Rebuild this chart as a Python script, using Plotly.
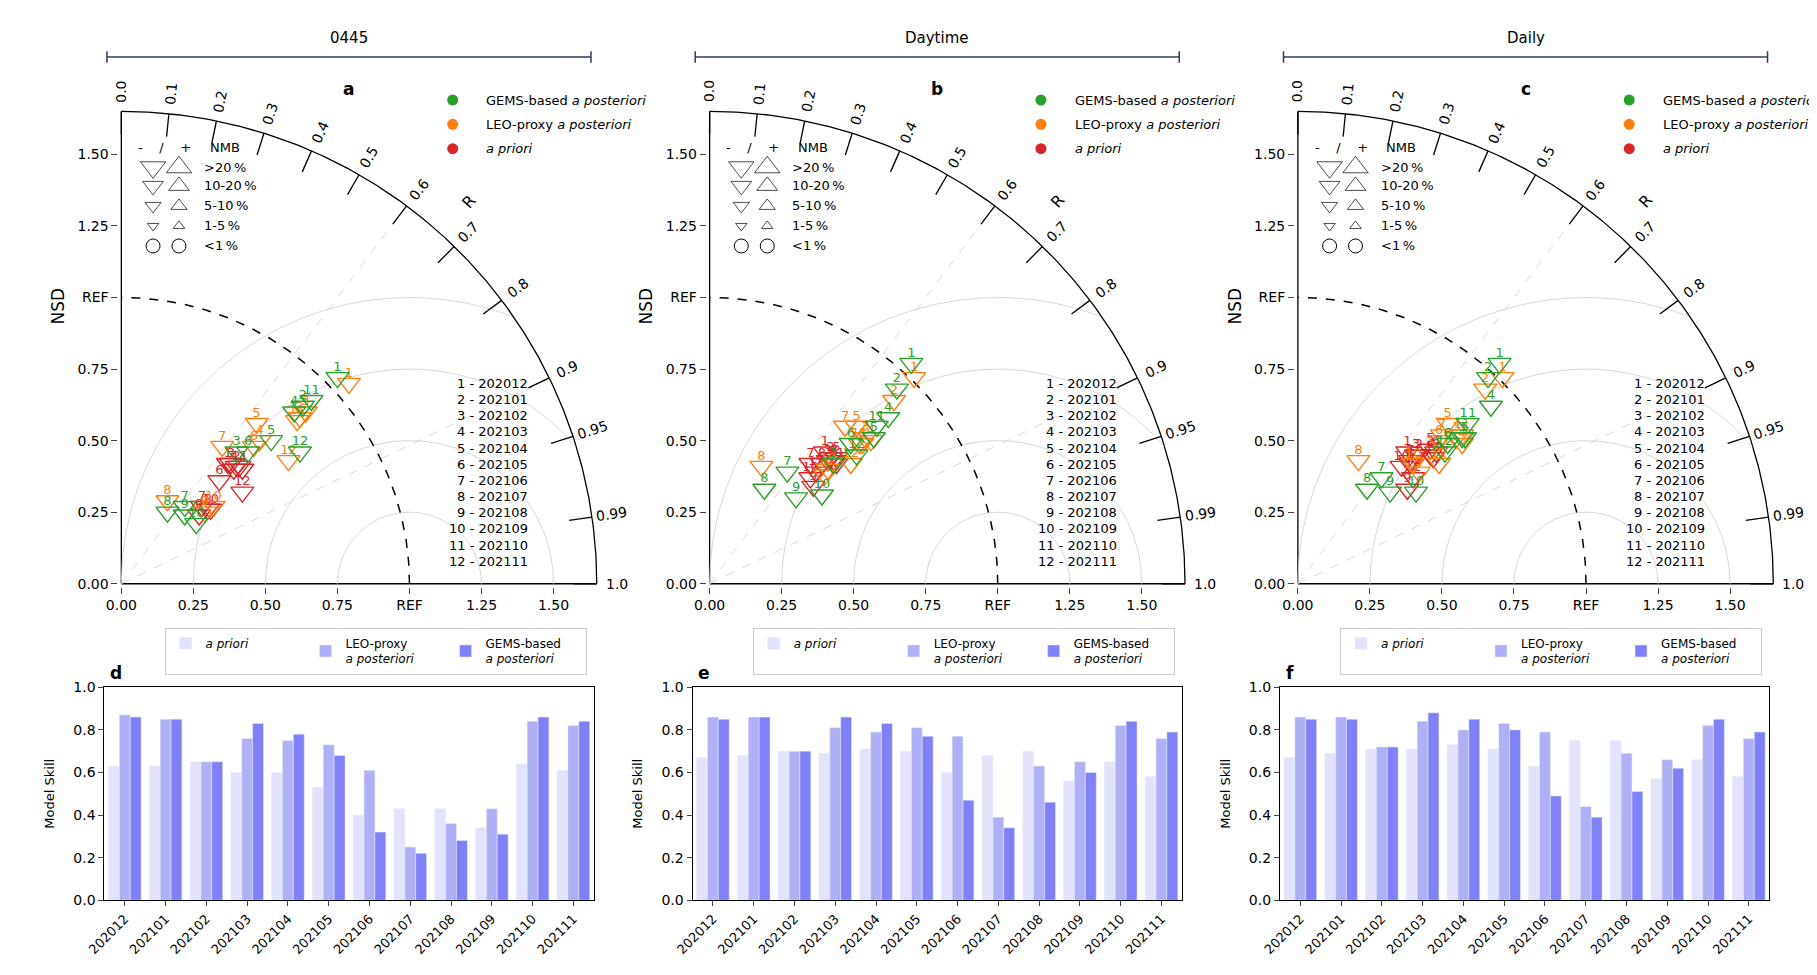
import numpy as np
import plotly.graph_objects as go

months = ["202012", "202101", "202102", "202103", "202104", "202105",
          "202106", "202107", "202108", "202109", "202110", "202111"]
panels = ["0445", "Daytime", "Daily"]

# Taylor diagram positions (NSD*R, NSD*sin), per panel
gems_x = [[0.75, 0.63, 0.40, 0.60, 0.52, 0.44, 0.22, 0.16, 0.22, 0.26, 0.66, 0.62],
          [0.70, 0.65, 0.43, 0.62, 0.57, 0.49, 0.27, 0.19, 0.30, 0.39, 0.58, 0.51],
          [0.70, 0.66, 0.57, 0.67, 0.58, 0.52, 0.29, 0.24, 0.32, 0.41, 0.59, 0.51]]
gems_y = [[0.72, 0.62, 0.46, 0.60, 0.50, 0.46, 0.27, 0.25, 0.24, 0.21, 0.64, 0.46],
          [0.77, 0.68, 0.42, 0.58, 0.51, 0.49, 0.39, 0.33, 0.30, 0.31, 0.55, 0.45],
          [0.77, 0.72, 0.51, 0.62, 0.51, 0.49, 0.37, 0.33, 0.32, 0.32, 0.56, 0.46]]
leo_x = [[0.79, 0.62, 0.64, 0.48, 0.47, 0.46, 0.35, 0.16, 0.29, 0.32, 0.61, 0.58],
         [0.71, 0.64, 0.54, 0.56, 0.51, 0.53, 0.47, 0.18, 0.40, 0.41, 0.52, 0.49],
         [0.71, 0.65, 0.55, 0.57, 0.52, 0.49, 0.50, 0.21, 0.42, 0.40, 0.57, 0.49]]
leo_y = [[0.70, 0.58, 0.60, 0.50, 0.56, 0.48, 0.48, 0.29, 0.25, 0.27, 0.57, 0.43],
         [0.72, 0.64, 0.51, 0.50, 0.55, 0.49, 0.55, 0.41, 0.38, 0.40, 0.49, 0.42],
         [0.72, 0.68, 0.51, 0.49, 0.56, 0.50, 0.52, 0.43, 0.39, 0.42, 0.52, 0.42]]
pri_x = [[0.37, 0.40, 0.38, 0.42, 0.39, 0.34, 0.28, 0.30, 0.27, 0.31, 0.41, 0.42],
         [0.40, 0.42, 0.41, 0.43, 0.44, 0.43, 0.35, 0.39, 0.36, 0.35, 0.44, 0.37],
         [0.38, 0.42, 0.41, 0.46, 0.46, 0.48, 0.39, 0.39, 0.38, 0.36, 0.47, 0.40]]
pri_y = [[0.42, 0.41, 0.42, 0.40, 0.40, 0.36, 0.27, 0.26, 0.24, 0.26, 0.41, 0.32],
         [0.46, 0.44, 0.43, 0.42, 0.44, 0.43, 0.42, 0.42, 0.34, 0.37, 0.42, 0.39],
         [0.46, 0.45, 0.45, 0.45, 0.47, 0.46, 0.43, 0.42, 0.33, 0.41, 0.44, 0.37]]

# Model skill bars
skill_prior = [[0.63, 0.63, 0.65, 0.60, 0.60, 0.53, 0.40, 0.43, 0.43, 0.34, 0.64, 0.61],
               [0.67, 0.68, 0.70, 0.69, 0.71, 0.70, 0.60, 0.68, 0.70, 0.56, 0.65, 0.58],
               [0.67, 0.69, 0.71, 0.71, 0.73, 0.71, 0.63, 0.75, 0.75, 0.57, 0.66, 0.58]]
skill_leo = [[0.87, 0.85, 0.65, 0.76, 0.75, 0.73, 0.61, 0.25, 0.36, 0.43, 0.84, 0.82],
             [0.86, 0.86, 0.70, 0.81, 0.79, 0.81, 0.77, 0.39, 0.63, 0.65, 0.82, 0.76],
             [0.86, 0.86, 0.72, 0.84, 0.80, 0.83, 0.79, 0.44, 0.69, 0.66, 0.82, 0.76]]
skill_gems = [[0.86, 0.85, 0.65, 0.83, 0.78, 0.68, 0.32, 0.22, 0.28, 0.31, 0.86, 0.84],
              [0.85, 0.86, 0.70, 0.86, 0.83, 0.77, 0.47, 0.34, 0.46, 0.60, 0.84, 0.79],
              [0.85, 0.85, 0.72, 0.88, 0.85, 0.80, 0.49, 0.39, 0.51, 0.62, 0.85, 0.79]]

r_ticks = [0.0, 0.1, 0.2, 0.3, 0.4, 0.5, 0.6, 0.7, 0.8, 0.9, 0.95, 0.99, 1.0]
nmb_labels = [">20\u2009%", "10-20\u2009%", "5-10\u2009%", "1-5\u2009%", "<1\u2009%"]
nmb_sizes = [22, 18, 14, 10, 14]

GREEN, ORANGE, RED = "#2ca02c", "#ff7f0e", "#d62728"
C_PRI, C_LEO, C_GEMS = "#e3e3fb", "#b0b0f6", "#8080f7"
FONT = "DejaVu Sans"
RMAX = 1.65
XR = [-0.01, 1.80]
YR = [-0.01, 1.95]
PXU = 291.0  # pixels per NSD unit

tx0 = [0.053, 0.380, 0.707]
bx0 = [0.0436, 0.3705, 0.697]
BW = 0.272

fig = go.Figure()
shapes, annos = [], []
th = np.linspace(0, np.pi / 2, 200)


def line(xs, ys, ax, color="black", width=1.3, dash="solid"):
    fig.add_trace(go.Scatter(x=xs, y=ys, mode="lines", line=dict(color=color, width=width, dash=dash),
                             hoverinfo="skip", showlegend=False, **ax))


for p in range(3):
    xa, ya = "x%d" % (p + 1), "y%d" % (p + 1)
    ax = dict(xaxis=xa, yaxis=ya)
    line(RMAX * np.cos(th), RMAX * np.sin(th), ax)
    line([0, RMAX], [0, 0], ax)
    line([0, 0], [0, RMAX], ax)
    for rr in [0.25, 0.5, 0.75, 1.0]:
        t = np.linspace(0, np.pi, 300)
        cx, cy = 1 + rr * np.cos(t), rr * np.sin(t)
        keep = (np.hypot(cx, cy) <= RMAX) & (cx >= 0)
        line(np.where(keep, cx, np.nan), np.where(keep, cy, np.nan), ax, color="#d3d3d3", width=0.9)
    line(np.cos(th), np.sin(th), ax, width=1.5, dash="dash")
    for rc in [0.6, 0.9]:
        a = np.arccos(rc)
        line([0, RMAX * np.cos(a)], [0, RMAX * np.sin(a)], ax, color="#d3d3d3", width=0.9, dash="dash")
    for rc in r_ticks:
        a = np.arccos(rc)
        line([1.57 * np.cos(a), RMAX * np.cos(a)], [1.57 * np.sin(a), RMAX * np.sin(a)], ax)
        annos.append(dict(x=1.72 * np.cos(a), y=1.72 * np.sin(a), xref=xa, yref=ya, text=str(rc),
                          showarrow=False, textangle=-np.degrees(a), font=dict(size=14)))
    a = np.arccos(0.67)
    annos.append(dict(x=1.80 * np.cos(a), y=1.80 * np.sin(a), xref=xa, yref=ya, text="R",
                      showarrow=False, textangle=-np.degrees(a), font=dict(size=16)))
    for xs, ys, col in [(pri_x[p], pri_y[p], RED), (leo_x[p], leo_y[p], ORANGE), (gems_x[p], gems_y[p], GREEN)]:
        fig.add_trace(go.Scatter(x=xs, y=ys, mode="markers", hoverinfo="skip", showlegend=False,
                                 marker=dict(symbol="triangle-down-open", size=20, color=col, line=dict(width=1.4)),
                                 **ax))
        fig.add_trace(go.Scatter(x=xs, y=[v + 0.035 for v in ys], mode="text", hoverinfo="skip",
                                 text=[str(i + 1) for i in range(12)], showlegend=False,
                                 textfont=dict(color=col, size=13), **ax))
    # NMB legend
    annos.append(dict(x=0.15, y=1.525, xref=xa, yref=ya, text="-    /    +", showarrow=False, font=dict(size=13)))
    annos.append(dict(x=0.30, y=1.525, xref=xa, yref=ya, text="NMB", showarrow=False, xanchor="left",
                      font=dict(size=13)))
    rows_y = [1.455, 1.39, 1.32, 1.25, 1.18]
    fig.add_trace(go.Scatter(x=[0.11] * 4, y=rows_y[:4], mode="markers", hoverinfo="skip", showlegend=False,
                             marker=dict(symbol="triangle-down-open", size=nmb_sizes[:4], color="black",
                                         line=dict(width=1)), **ax))
    fig.add_trace(go.Scatter(x=[0.20] * 4, y=rows_y[:4], mode="markers", hoverinfo="skip", showlegend=False,
                             marker=dict(symbol="triangle-up-open", size=nmb_sizes[:4], color="black",
                                         line=dict(width=1)), **ax))
    fig.add_trace(go.Scatter(x=[0.11, 0.20], y=[rows_y[4]] * 2, mode="markers", hoverinfo="skip", showlegend=False,
                             marker=dict(symbol="circle-open", size=14, color="black", line=dict(width=1)), **ax))
    for yy, lab in zip(rows_y, nmb_labels):
        annos.append(dict(x=0.28, y=yy, xref=xa, yref=ya, text=lab, showarrow=False, xanchor="left",
                          font=dict(size=13)))
    # series legend
    for yy, col, lab in [(1.69, GREEN, "GEMS-based <i>a posteriori</i>"),
                         (1.605, ORANGE, "LEO-proxy <i>a posteriori</i>"),
                         (1.52, RED, "<i>a priori</i>")]:
        fig.add_trace(go.Scatter(x=[1.15], y=[yy], mode="markers", hoverinfo="skip", showlegend=False,
                                 marker=dict(size=11, color=col), **ax))
        annos.append(dict(x=1.26, y=yy, xref=xa, yref=ya, text=lab, showarrow=False, xanchor="left",
                          font=dict(size=13)))
    for i, m in enumerate(months):
        annos.append(dict(x=1.42, y=0.70 - i * 0.0565, xref=xa, yref=ya, text="%d - %s" % (i + 1, m),
                          showarrow=False, xanchor="right", font=dict(size=13)))
    annos.append(dict(x=0.79, y=1.73, xref=xa, yref=ya, text="<b>" + "abc"[p] + "</b>", showarrow=False,
                      font=dict(size=17)))
    annos.append(dict(x=0.79, y=1.905, xref=xa, yref=ya, text=panels[p], showarrow=False, font=dict(size=15)))
    px0 = tx0[p] - 0.05 * PXU / 1817
    px1 = tx0[p] + 1.63 * PXU / 1817
    shapes.append(dict(type="line", xref="paper", yref=ya, x0=px0, x1=px1, y0=1.84, y1=1.84, line=dict(width=1.5)))
    for xe in [px0, px1]:
        shapes.append(dict(type="line", xref="paper", yref=ya, x0=xe, x1=xe, y0=1.82, y1=1.86, line=dict(width=1.5)))

    # bars
    bxa, bya = "x%d" % (p + 4), "y%d" % (p + 4)
    leg = "legend" if p == 0 else "legend%d" % (p + 1)
    for vals, col, name in [(skill_prior[p], C_PRI, "<i>a priori</i>"),
                            (skill_leo[p], C_LEO, "LEO-proxy<br><i>a posteriori</i>"),
                            (skill_gems[p], C_GEMS, "GEMS-based<br><i>a posteriori</i>")]:
        fig.add_trace(go.Bar(x=months, y=vals, name=name, marker_color=col, xaxis=bxa, yaxis=bya, legend=leg))
    annos.append(dict(x=bx0[p] + 0.002, y=0.302, xref="paper", yref="paper", text="<b>" + "def"[p] + "</b>",
                      showarrow=False, xanchor="left", yanchor="bottom", font=dict(size=17)))

lay = dict(width=1817, height=975, plot_bgcolor="white", paper_bgcolor="white",
           font=dict(family=FONT, size=14, color="black"), margin=dict(l=0, r=0, t=0, b=0),
           barmode="group", bargap=0.2, bargroupgap=0, shapes=shapes, annotations=annos)

tickv = [0, 0.25, 0.5, 0.75, 1.0, 1.25, 1.5]
tickt = ["0.00", "0.25", "0.50", "0.75", "REF", "1.25", "1.50"]
xw = (XR[1] - XR[0]) * PXU / 1817
yh = (YR[1] - YR[0]) * PXU / 975
for p in range(3):
    k = p + 1
    d0 = tx0[p] + XR[0] * PXU / 1817
    y0 = 0.408 + YR[0] * PXU / 975
    lay["xaxis%d" % k] = dict(domain=[d0, d0 + xw], range=XR, tickvals=tickv, ticktext=tickt,
                              showgrid=False, zeroline=False, showline=False,
                              ticks="outside", ticklen=6, anchor="y%d" % k)
    lay["yaxis%d" % k] = dict(domain=[y0, min(y0 + yh, 1.0)], range=YR, tickvals=tickv, ticktext=tickt,
                              showgrid=False, zeroline=False, showline=False,
                              ticks="outside", ticklen=6, anchor="x%d" % k,
                              title=dict(text="NSD", standoff=8))
    b = p + 4
    lay["xaxis%d" % b] = dict(domain=[bx0[p], bx0[p] + BW], showgrid=False, showline=True, mirror=True,
                              linecolor="black", ticks="outside", tickangle=-45, anchor="y%d" % b,
                              tickfont=dict(size=13))
    lay["yaxis%d" % b] = dict(domain=[0.078, 0.300], range=[0, 1.0], dtick=0.2, tickformat=".1f", showgrid=False,
                              showline=True, mirror=True, linecolor="black", ticks="outside", anchor="x%d" % b,
                              title=dict(text="Model Skill", font=dict(size=13)), zeroline=False)
    leg = "legend" if p == 0 else "legend%d" % (p + 1)
    lay[leg] = dict(orientation="h", x=bx0[p] + BW - 0.004, xanchor="right", y=0.362, yanchor="top",
                    bordercolor="#cccccc", borderwidth=1, font=dict(size=12), itemwidth=30,
                    entrywidth=95, tracegroupgap=0)

fig.update_layout(**lay)
fig.write_html("out.html")
